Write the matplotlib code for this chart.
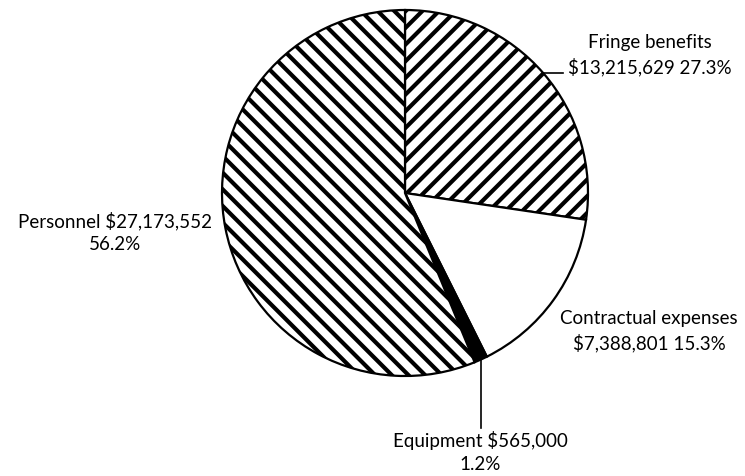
import numpy as np
import matplotlib
matplotlib.use("Agg")
import matplotlib.pyplot as plt

# data
categorias = ["Fringe benefits", "Contractual expenses", "Equipment", "Personnel"]
valores = [13215629, 7388801, 565000, 27173552]
percentuais = ["27.3%", "15.3%", "1.2%", "56.2%"]
rotulos = [
    "Fringe benefits\n$13,215,629 27.3%",
    "Contractual expenses\n$7,388,801 15.3%",
    "Equipment $565,000\n1.2%",
    "Personnel $27,173,552\n56.2%",
]

# estilo
cores = ["white", "white", "black", "white"]
hachuras = ["//", None, None, "\\\\"]

plt.rcParams["hatch.linewidth"] = 3.0
plt.rcParams["font.family"] = ["Lato", "DejaVu Sans"]

W, H = 745, 476
fig = plt.figure(figsize=(W / 100, H / 100), dpi=100)
ax = fig.add_axes([0, 0, 1, 1])
ax.set_xlim(0, W)
ax.set_ylim(0, H)
ax.set_aspect("equal")

centro = (405, H - 193)
raio = 183

wedges, _ = ax.pie(
    valores,
    colors=cores,
    startangle=90,
    counterclock=False,
    center=centro,
    radius=raio,
    wedgeprops=dict(edgecolor="black", linewidth=1.6),
    frame=True,
)
ax.axis("off")
for w, h in zip(wedges, hachuras):
    if h:
        w.set_hatch(h)


def ponto_borda(w):
    ang = np.deg2rad((w.theta1 + w.theta2) / 2)
    return centro[0] + raio * np.cos(ang), centro[1] + raio * np.sin(ang)


# posicoes dos rotulos (pixels, origem no canto superior esquerdo)
pos_rotulos = [(650, 55), (649, 331), (480, 452), (115, 232)]
for txt, (px, py) in zip(rotulos, pos_rotulos):
    ax.text(px, H - py, txt, ha="center", va="center", multialignment="center",
            fontsize=13.5, color="black", linespacing=1.4)

# linhas de chamada
x0, y0 = ponto_borda(wedges[0])
ax.plot([x0, 563], [y0, y0], color="black", linewidth=1.2)
x2, y2 = ponto_borda(wedges[2])
ax.plot([x2, x2], [y2, H - 428], color="black", linewidth=1.2)

fig.savefig("out.png", dpi=100)
